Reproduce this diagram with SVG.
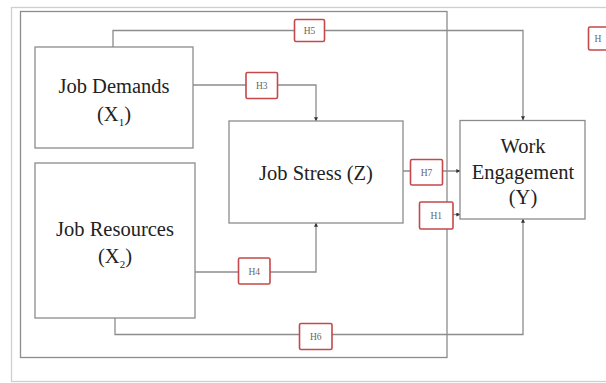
<svg xmlns="http://www.w3.org/2000/svg" width="606" height="383" viewBox="0 0 606 383">
<defs>
<style>
.node{fill:#fff;stroke:#8c8c8c;stroke-width:1.3}
.lbl{font-family:"Liberation Serif","Times New Roman",serif;font-size:20.5px;fill:#222;text-anchor:middle}
.con{fill:none;stroke:#8c8c8c;stroke-width:1.3}
.hb{fill:#fff;stroke:#c5484a;stroke-width:1.6}
.ht{font-family:"Liberation Serif","Times New Roman",serif;font-size:9.5px;fill:#666;text-anchor:middle}
</style>
<marker id="ah" viewBox="0 0 6 6" refX="5.5" refY="3" markerWidth="4" markerHeight="4" orient="auto" markerUnits="userSpaceOnUse">
<path d="M0,0 L6,3 L0,6 Z" fill="#333"/>
</marker>
</defs>
<rect width="606" height="383" fill="#fff"/>
<g id="frames">
<rect x="11.5" y="7.5" width="620" height="374" fill="none" stroke="#cfcfcf" stroke-width="1.3"/>
<rect x="20.5" y="11.5" width="426.5" height="346" fill="none" stroke="#8c8c8c" stroke-width="1.3"/>
</g>
<g id="connectors">
<path class="con" d="M113,47 V30.5 H523 V120" marker-end="url(#ah)"/>
<path class="con" d="M193,85 H316 V121" marker-end="url(#ah)"/>
<path class="con" d="M403,171 H460" marker-end="url(#ah)"/>
<path class="con" d="M453,214.5 H460" marker-end="url(#ah)"/>
<path class="con" d="M195,272 H316 V223" marker-end="url(#ah)"/>
<path class="con" d="M115,318 V334.5 H523 V219" marker-end="url(#ah)"/>
</g>
<g id="job-demands">
<rect class="node" x="35" y="47" width="158" height="101"/>
<text class="lbl" x="114" y="93">Job Demands</text>
<text class="lbl" x="114" y="121">(X<tspan font-size="11" dy="5">1</tspan><tspan dy="-5">)</tspan></text>
</g>
<g id="job-resources">
<rect class="node" x="35" y="163" width="160" height="155"/>
<text class="lbl" x="115" y="236">Job Resources</text>
<text class="lbl" x="115" y="263">(X<tspan font-size="11" dy="5">2</tspan><tspan dy="-5">)</tspan></text>
</g>
<g id="job-stress">
<rect class="node" x="229" y="121" width="174" height="102"/>
<text class="lbl" x="316" y="180">Job Stress (Z)</text>
</g>
<g id="work-engagement">
<rect class="node" x="460" y="120.5" width="125" height="98.5"/>
<text class="lbl" x="523" y="153">Work</text>
<text class="lbl" x="523" y="179">Engagement</text>
<text class="lbl" x="523" y="204">(Y)</text>
</g>
<g id="h5"><rect class="hb" x="294.5" y="19.5" width="30" height="22" rx="1.5"/><text class="ht" x="309.5" y="34">H5</text></g>
<g id="h3"><rect class="hb" x="246" y="72.5" width="31.5" height="26" rx="1.5"/><text class="ht" x="261.75" y="89">H3</text></g>
<g id="h7"><rect class="hb" x="410.5" y="159.5" width="32" height="25.5" rx="1.5"/><text class="ht" x="426.5" y="175.5">H7</text></g>
<g id="h1"><rect class="hb" x="419.5" y="202" width="33.5" height="27" rx="1.5"/><text class="ht" x="436.25" y="219">H1</text></g>
<g id="h4"><rect class="hb" x="238.5" y="258" width="31.5" height="26" rx="1.5"/><text class="ht" x="254.25" y="274.5">H4</text></g>
<g id="h6"><rect class="hb" x="299.5" y="323.5" width="32.5" height="26" rx="1.5"/><text class="ht" x="315.75" y="340">H6</text></g>
<g id="h2"><rect class="hb" x="588.5" y="27" width="30" height="23" rx="1.5" stroke="#d98a8b"/><text class="ht" x="598" y="42" text-anchor="start">H</text></g>
</svg>
